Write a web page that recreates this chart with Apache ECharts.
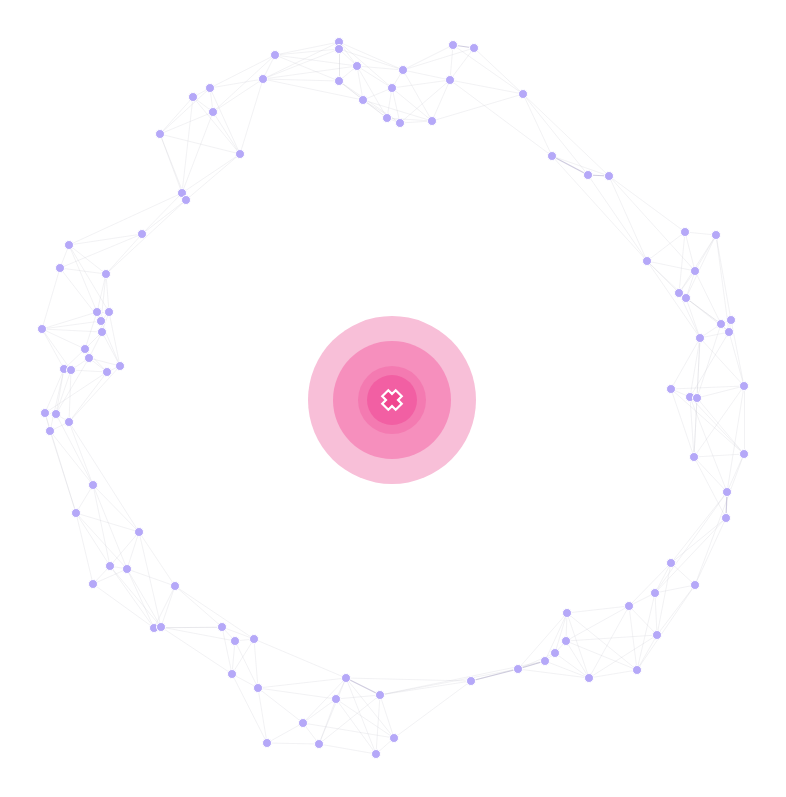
<!DOCTYPE html>
<html><head><meta charset="utf-8">
<script src="https://cdn.jsdelivr.net/npm/echarts@6/dist/echarts.min.js"></script>
<style>html,body{margin:0;padding:0;background:#fff}#chart{width:786px;height:797px}</style>
</head><body><div id="chart"></div>
<script>
// Node layout positions (logical units, origin at the centre hub)
const nodeX = [
  -53,-53,-35,11,-53,0,-29,-5,8,40,61,82,58,131,
  -117,-129,-182,-199,-179,-232,-152,-210,-206,-250,
  160,196,217,
  293,324,255,303,287,294,
  329,339,337,308,279,298,305,352,302,352,335,334,
  279,303,263,237,175,265,174,163,153,126,245,197,79,
  -170,-157,-138,-160,-134,-46,-12,-56,-89,-125,-73,2,-16,
  -299,-316,-253,-282,-265,-299,-217,-238,-231,
  -323,-332,-286,-295,-283,-291,-350,-290,-307,-303,-328,-321,-272,-285,-347,-336,-323,-342
];
const nodeY = [
  358,351,334,330,319,312,300,282,277,279,355,352,320,306,
  345,321,312,303,288,266,246,207,200,166,
  244,225,224,
  168,165,139,129,107,102,
  76,80,68,62,11,3,2,14,-57,-54,-92,-118,
  -163,-185,-193,-206,-213,-235,-241,-253,-261,-269,-270,-278,-281,
  -227,-241,-239,-274,-288,-278,-295,-299,-323,-343,-344,-338,-354,
  -85,-113,-132,-166,-169,-184,-186,-228,-227,
  155,132,126,88,88,79,71,68,51,42,31,30,34,28,-13,-14,-22,-31
];
const links = [
  [0,1],[0,2],[1,2],[1,4],[2,4],[2,3],[2,6],[2,5],[4,6],[6,7],[6,5],[5,3],[5,7],[5,8],[7,8],[8,9],[3,9],
  [9,12],[12,10],[10,11],[11,12],[12,13],[11,13],[3,12],[6,8],[4,7],[5,9],[3,10],[9,13],[0,3],[1,3],
  [0,5],[4,8],[2,7],[7,9],[6,9],[3,11],[10,13],[5,12],[8,12],[0,4],
  [14,0],[14,1],[15,4],[15,2],[14,4],[15,0],[14,2],[15,1],[15,6],
  [14,15],[15,16],[15,18],[16,17],[16,18],[17,18],[17,19],[18,19],[18,20],[16,20],[19,21],[21,22],
  [20,22],[20,21],[19,20],[22,23],[21,23],[15,20],[14,16],[19,22],[17,21],[14,18],[17,20],[18,21],[16,19],
  [23,80],[23,82],[23,81],[22,82],[21,80],
  [13,24],[13,25],[24,25],[25,26],[24,26],[13,26],[12,24],
  [26,27],[26,29],[25,29],[26,30],[24,29],
  [27,28],[27,29],[27,30],[28,30],[29,30],[29,31],[30,31],[30,32],[31,32],[28,32],[27,31],[29,32],[28,31],
  [31,33],[32,33],[32,36],[31,36],[28,34],[32,35],[30,33],[28,35],[29,36],
  [33,34],[33,35],[34,35],[33,36],[35,36],[36,37],[36,38],[36,39],[36,40],[35,40],[37,38],[38,39],[39,40],
  [37,41],[38,41],[39,41],[40,42],[39,42],[41,42],[41,43],[42,43],[43,44],[41,44],[40,41],[37,40],
  [33,39],[34,40],[35,38],[38,42],[37,42],[38,43],[40,43],[36,41],
  [44,45],[43,45],[44,46],[42,46],[44,47],[43,47],
  [45,46],[45,47],[45,48],[46,47],[46,50],[47,48],[47,50],[48,49],[48,50],[48,56],[49,51],[49,52],[50,55],
  [50,56],[51,52],[51,56],[52,53],[53,54],[49,53],[49,56],[51,55],[52,56],[53,56],[54,56],[55,56],[48,55],
  [49,55],[54,57],[53,57],[52,54],[47,55],[46,55],[48,51],[50,51],[49,54],[45,50],
  [57,64],[57,69],[54,64],[57,63],[53,64],
  [58,59],[58,60],[59,60],[59,61],[60,61],[60,62],[61,62],[62,66],[62,67],[58,61],[60,63],[62,63],[63,64],
  [63,65],[63,69],[64,65],[64,69],[64,70],[65,66],[65,68],[65,69],[66,67],[66,68],[67,68],[68,70],[69,70],
  [65,70],[62,65],[64,68],[63,70],[63,68],[66,69],[59,62],[61,67],[63,66],
  [58,79],[58,78],[59,79],[61,79],[60,77],[58,77],
  [71,72],[71,73],[72,73],[72,76],[72,74],[73,74],[73,75],[73,77],[74,75],[74,76],[75,76],[75,77],[75,78],
  [75,79],[76,78],[77,78],[77,79],[78,79],[74,78],[71,75],[71,74],[73,79],[74,79],[72,75],
  [71,96],[71,97],[72,97],[72,94],[71,95],[73,96],
  [80,81],[80,82],[81,82],[81,86],[82,83],[82,84],[82,85],[83,84],[83,85],[84,85],[84,87],[85,87],[86,87],
  [86,88],[86,83],[86,90],[87,88],[87,89],[87,92],[88,89],[88,90],[89,91],[89,93],[89,92],[90,91],[91,93],
  [92,93],[90,94],[91,95],[93,96],[94,95],[94,97],[95,96],[96,97],[91,96],[90,95],[84,92],[80,83],
  [81,85],[80,84],[86,85],[83,88],[85,92],[86,91],[88,93],[92,96],[89,95],[93,94],[90,97]
];
const strongLinks = [[24,25],[25,26],[10,11],[54,57],[53,54],[43,44],[63,64]];
const ringSizes = [168, 118, 68, 50];
const ringColors = ['#f8bfd8', '#f68fbd', '#f47ab1', '#f25fa3'];

const strongSet = new Set(strongLinks.map(p => p.join('-')));
const chart = echarts.init(document.getElementById('chart'));
chart.setOption({
  animation: false,
  backgroundColor: '#ffffff',
  grid: { left: 0, right: 0, top: 0, bottom: 0 },
  xAxis: { type: 'value', min: -392, max: 394, show: false },
  yAxis: { type: 'value', min: -397, max: 400, show: false },
  series: [
    {
      type: 'graph',
      coordinateSystem: 'cartesian2d',
      symbol: 'circle',
      symbolSize: 9,
      itemStyle: { color: '#b5a8f8', borderColor: '#ffffff', borderWidth: 1, opacity: 1 },
      lineStyle: { color: '#c4c4cc', opacity: 0.22, width: 1 },
      data: nodeX.map((x, i) => [x, nodeY[i]]),
      links: links.map(([s, t]) => strongSet.has(s + '-' + t)
        ? { source: s, target: t, lineStyle: { color: '#a8a2c4', opacity: 0.55, width: 1.2 } }
        : { source: s, target: t }),
      z: 2
    },
    {
      type: 'scatter',
      data: ringSizes.map((s, i) => ({ value: [0, 0], symbolSize: s, itemStyle: { color: ringColors[i], opacity: 1 } })),
      symbol: 'circle',
      silent: true,
      z: 3
    },
    {
      type: 'scatter',
      data: [[0, 0]],
      symbol: 'path://M-4.5,-10 L4.5,-10 L4.5,-4.5 L10,-4.5 L10,4.5 L4.5,4.5 L4.5,10 L-4.5,10 L-4.5,4.5 L-10,4.5 L-10,-4.5 L-4.5,-4.5 Z',
      symbolSize: 19,
      symbolRotate: 45,
      itemStyle: { color: '#f0468f', borderColor: '#ffffff', borderWidth: 2.2, opacity: 1 },
      silent: true,
      z: 4
    }
  ]
});
</script>
</body></html>
